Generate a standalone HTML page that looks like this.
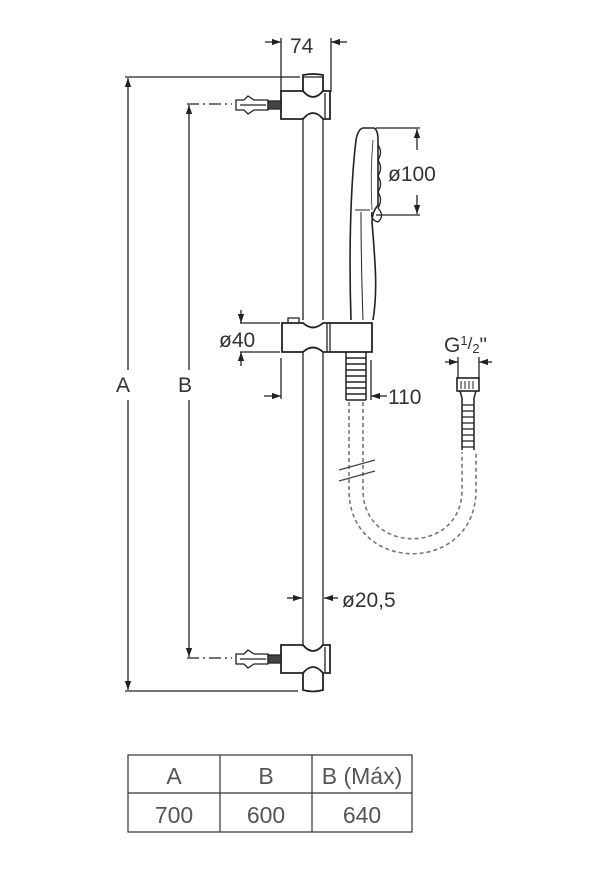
<!DOCTYPE html>
<html><head><meta charset="utf-8"><style>
html,body{margin:0;padding:0;background:#fff;}
svg{display:block;}
text{font-family:"Liberation Sans",sans-serif;fill:#333;}
</style></head><body>
<svg width="615" height="888" viewBox="0 0 615 888" xmlns="http://www.w3.org/2000/svg">
<defs>
<marker id="ar" viewBox="0 0 10 10" refX="10" refY="5" markerWidth="7" markerHeight="7" orient="auto-start-reverse"><path d="M0,1.5 L10,5 L0,8.5 z" fill="#222"/></marker>
</defs>
<g stroke="#222" stroke-width="1.3" fill="none">
<line x1="125" y1="77" x2="300" y2="77"/>
<line x1="125" y1="691" x2="298" y2="691"/>
<line x1="128" y1="370" x2="128" y2="78" marker-end="url(#ar)"/>
<line x1="128" y1="400" x2="128" y2="690" marker-end="url(#ar)"/>
<line x1="189" y1="370" x2="189" y2="105" marker-end="url(#ar)"/>
<line x1="189" y1="400" x2="189" y2="657" marker-end="url(#ar)"/>
<line x1="187" y1="104" x2="232" y2="104" stroke-dasharray="12,4,2,4"/>
<line x1="187" y1="658" x2="232" y2="658" stroke-dasharray="12,4,2,4"/>
<line x1="281" y1="38" x2="281" y2="92"/>
<line x1="331" y1="38" x2="331" y2="92"/>
<line x1="265" y1="42" x2="281" y2="42" marker-end="url(#ar)"/>
<line x1="347" y1="42" x2="331" y2="42" marker-end="url(#ar)"/>
<line x1="303" y1="118" x2="303" y2="320"/>
<line x1="323" y1="118" x2="323" y2="320"/>
<line x1="303" y1="352" x2="303" y2="645"/>
<line x1="323" y1="352" x2="323" y2="645"/>
<path d="M303,92 V75 Q313,73 323,75 V92" stroke-width="1.8"/>
<path d="M303,77 H323"/>
<path d="M281,91 H303 Q313,103 323,91 H330 V119 H323 Q313,107 303,119 H281 Z" stroke-width="1.8"/>
<line x1="325" y1="93" x2="325" y2="118"/>
<path d="M281,645 H303 Q313,657 323,645 H330 V673 H323 Q313,661 303,673 H281 Z" stroke-width="1.8"/>
<line x1="325" y1="647" x2="325" y2="672"/>
<path d="M303,673 V690 Q313,693 323,690 V673" stroke-width="1.8"/>
<path d="M282,323 H303 Q313,332 323,323 H372 V352 H323 Q313,343 303,352 H282 Z" stroke-width="1.8"/>
<path d="M288,323 V318 H299 V323" />
<line x1="330" y1="323" x2="330" y2="352"/>
<line x1="327" y1="323" x2="327" y2="352"/>
<path d="M346,352 V400 M366,352 V400" stroke-width="1.5"/>
<path d="M346,358 H366 M346,364 H366 M346,370 H366 M346,376 H366 M346,382 H366 M346,388 H366 M346,394 H366 M346,400 H366" stroke-width="1.4"/>
<path d="M351,320 C349,260 350,190 356,140 Q358,129 363,128 H374 Q378,130 378,140 L378,205 Q372,212 372,222 C375,260 378,290 373,320" stroke-width="1.6"/>
<path d="M355,210 L370,210 M361,212 C361,260 362,290 363,320" stroke-width="1"/>
<path d="M378,145 Q383,152 378,160 Q383,168 378,176 Q383,184 378,192 Q383,200 378,208 Q385,216 378,222 Q370,220 372,212" stroke-width="1.3"/>
<path d="M373,140 Q370,175 372,210" stroke-width="0.8"/>
<line x1="376" y1="128" x2="420" y2="128"/>
<line x1="376" y1="215" x2="420" y2="215"/>
<line x1="417" y1="150" x2="417" y2="129" marker-end="url(#ar)"/>
<line x1="417" y1="195" x2="417" y2="214" marker-end="url(#ar)"/>
<line x1="240" y1="323" x2="280" y2="323"/>
<line x1="240" y1="352" x2="280" y2="352"/>
<line x1="241" y1="310" x2="241" y2="323" marker-end="url(#ar)"/>
<line x1="241" y1="366" x2="241" y2="352" marker-end="url(#ar)"/>
<line x1="281" y1="358" x2="281" y2="399"/>
<line x1="264" y1="396" x2="281" y2="396" marker-end="url(#ar)"/>
<line x1="371" y1="360" x2="371" y2="400"/>
<line x1="387" y1="396" x2="371" y2="396" marker-end="url(#ar)"/>
<line x1="287" y1="598" x2="302" y2="598" marker-end="url(#ar)"/>
<line x1="338" y1="598" x2="324" y2="598" marker-end="url(#ar)"/>
<line x1="458" y1="357" x2="458" y2="378"/>
<line x1="479" y1="357" x2="479" y2="378"/>
<line x1="445" y1="362" x2="458" y2="362" marker-end="url(#ar)"/>
<line x1="492" y1="362" x2="479" y2="362" marker-end="url(#ar)"/>
<rect x="457" y="378" width="22" height="13" stroke-width="1.6"/>
<path d="M461,381 V389 M465,381 V389 M469,381 V389 M473,381 V389" stroke-width="1"/>
<path d="M460,391 L462,398 V450 M476,391 L474,398 V450" stroke-width="1.5"/>
<path d="M462,405 H474 M462,411 H474 M462,417 H474 M462,423 H474 M462,429 H474 M462,435 H474 M462,441 H474 M462,447 H474" stroke-width="1.3"/>
<g stroke="#777" stroke-width="1.6" stroke-dasharray="4,3">
<path d="M349,402 V490 C349,575 476,575 476,490 V452"/>
<path d="M363,402 V490 C363,555 462,555 462,490 V452"/>
</g>
<path d="M339,470 L375,460 M339,481 L375,471" stroke="#444" stroke-width="1.2"/>
<g stroke-width="1.3">
<path d="M236,100 L244,100 L248,96 L254,100 L268,100 V110 L254,110 L248,114 L244,110 L236,110 Z"/>
<rect x="268" y="101" width="13" height="8" fill="#444"/>
<line x1="240" y1="105" x2="266" y2="105"/>
<path d="M236,654 L244,654 L248,650 L254,654 L268,654 V664 L254,664 L248,668 L244,664 L236,664 Z"/>
<rect x="268" y="655" width="13" height="8" fill="#444"/>
<line x1="240" y1="659" x2="266" y2="659"/>
</g>
<g stroke="#333" stroke-width="1.2">
<rect x="128" y="755" width="284" height="77"/>
<line x1="128" y1="793" x2="412" y2="793"/>
<line x1="220" y1="755" x2="220" y2="832"/>
<line x1="312" y1="755" x2="312" y2="832"/>
</g>
</g>
<rect x="385" y="162" width="60" height="24" fill="#fff"/>
<g font-size="21">
<text x="290" y="53">74</text>
<text x="388" y="181">ø100</text>
<text x="219" y="347">ø40</text>
<text x="388" y="404">110</text>
<text x="342" y="607">ø20,5</text>
<text x="116" y="392">A</text>
<text x="178" y="392">B</text>
<text x="444" y="352">G<tspan font-size="13" dy="-7">1</tspan><tspan font-size="17" dy="4">/</tspan><tspan font-size="13" dy="4">2</tspan><tspan dy="-1">"</tspan></text>
</g>
<g font-size="23" text-anchor="middle">
<text x="174" y="784" style="fill:#555">A</text>
<text x="266" y="784" style="fill:#555">B</text>
<text x="362" y="784" style="fill:#555">B (Máx)</text>
<text x="174" y="823" style="fill:#555">700</text>
<text x="266" y="823" style="fill:#555">600</text>
<text x="362" y="823" style="fill:#555">640</text>
</g>
</svg>
</body></html>
